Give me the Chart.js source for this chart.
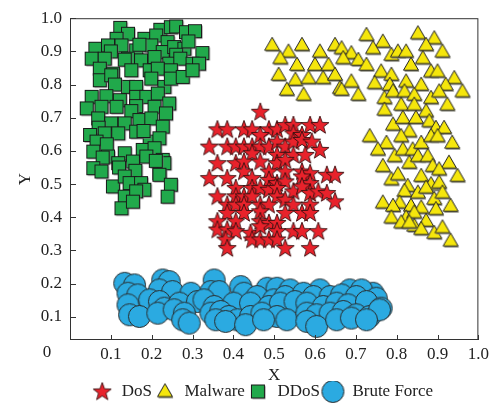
<!DOCTYPE html>
<html>
<head>
<meta charset="utf-8">
<script src="https://cdn.jsdelivr.net/npm/chart.js@4.4.1/dist/chart.umd.min.js"></script>
<style>
  html, body { margin: 0; padding: 0; background: #fff; }
</style>
</head>
<body>
<canvas id="chart" width="493" height="407"></canvas>
<script>
const seriesNames = ['DoS', 'Malware', 'DDoS', 'Brute Force'];
const xTicks = [0.1, 0.2, 0.3, 0.4, 0.5, 0.6, 0.7, 0.8, 0.9, 1.0];
const yTicks = [0.1, 0.2, 0.3, 0.4, 0.5, 0.6, 0.7, 0.8, 0.9, 1.0];

const dosPoints = [
  [0.466,0.718],
  [0.361,0.665],[0.385,0.665],[0.426,0.665],[0.446,0.665],[0.487,0.665],[0.507,0.665],[0.527,0.678],[0.547,0.678],[0.588,0.678],[0.612,0.678],
  [0.466,0.648],[0.547,0.653],[0.568,0.648],
  [0.341,0.613],[0.385,0.613],[0.406,0.613],[0.426,0.613],[0.446,0.613],[0.466,0.613],[0.487,0.613],[0.507,0.628],[0.527,0.613],[0.547,0.628],[0.568,0.633],[0.592,0.628],[0.612,0.603],
  [0.446,0.593],[0.507,0.588],[0.547,0.588],[0.576,0.588],
  [0.361,0.563],[0.406,0.563],[0.426,0.568],[0.466,0.568],[0.507,0.563],[0.527,0.573],
  [0.426,0.538],[0.487,0.538],[0.527,0.538],[0.568,0.538],[0.588,0.533],[0.568,0.523],[0.629,0.528],[0.649,0.528],
  [0.341,0.518],[0.385,0.518],[0.446,0.518],[0.487,0.513],[0.507,0.503],[0.527,0.508],[0.588,0.503],
  [0.406,0.488],[0.446,0.488],[0.466,0.488],[0.487,0.483],[0.507,0.488],[0.547,0.478],[0.568,0.493],[0.588,0.473],[0.608,0.478],[0.629,0.473],
  [0.361,0.463],[0.406,0.463],[0.426,0.463],[0.446,0.463],[0.507,0.463],[0.527,0.453],[0.649,0.448],
  [0.385,0.438],[0.406,0.438],[0.426,0.438],[0.466,0.438],[0.487,0.438],[0.547,0.438],[0.588,0.438],
  [0.385,0.413],[0.426,0.413],[0.466,0.418],[0.527,0.413],[0.568,0.413],[0.588,0.413],
  [0.361,0.388],[0.406,0.388],[0.466,0.388],[0.487,0.383],[0.507,0.383],
  [0.361,0.363],[0.385,0.363],[0.406,0.358],[0.442,0.353],[0.466,0.373],[0.507,0.358],[0.547,0.358],[0.568,0.358],[0.608,0.358],
  [0.381,0.333],[0.446,0.333],[0.466,0.333],[0.487,0.333],[0.507,0.333],
  [0.385,0.307],[0.527,0.307],[0.588,0.307]
];

const malwarePoints = [
  [0.495,0.919],[0.568,0.919],[0.649,0.919],[0.726,0.949],[0.766,0.929],[0.852,0.954],[0.892,0.939],[0.872,0.919],[0.912,0.899],
  [0.535,0.899],[0.515,0.879],[0.612,0.899],[0.665,0.909],[0.689,0.894],[0.742,0.909],[0.787,0.889],[0.803,0.899],[0.823,0.899],[0.864,0.879],
  [0.556,0.859],[0.600,0.859],[0.633,0.859],[0.669,0.879],[0.706,0.874],[0.726,0.859],[0.762,0.839],[0.787,0.829],[0.835,0.859],[0.884,0.839],[0.900,0.839],[0.941,0.819],
  [0.511,0.829],[0.552,0.814],[0.584,0.819],[0.620,0.819],[0.649,0.829],[0.689,0.809],[0.746,0.804],[0.783,0.799],[0.823,0.809],[0.860,0.799],[0.920,0.799],[0.961,0.779],
  [0.531,0.784],[0.572,0.769],[0.661,0.789],[0.665,0.784],[0.706,0.769],[0.770,0.759],[0.791,0.779],[0.819,0.779],[0.843,0.769],[0.884,0.759],[0.904,0.779],
  [0.924,0.739],[0.811,0.739],[0.843,0.739],[0.770,0.724],[0.872,0.719],
  [0.791,0.679],[0.815,0.699],[0.847,0.699],[0.880,0.689],[0.896,0.669],[0.916,0.669],[0.831,0.659],[0.811,0.644],
  [0.734,0.644],[0.775,0.624],[0.754,0.604],[0.795,0.584],[0.815,0.604],[0.839,0.604],[0.860,0.624],[0.884,0.644],[0.900,0.644],[0.936,0.624],
  [0.831,0.564],[0.852,0.584],[0.876,0.584],[0.888,0.554],[0.928,0.564],[0.949,0.524],[0.904,0.544],
  [0.766,0.554],[0.787,0.514],[0.803,0.529],[0.827,0.494],[0.860,0.524],[0.884,0.499],[0.904,0.504],
  [0.819,0.479],[0.852,0.474],[0.872,0.489],[0.892,0.455],[0.912,0.474],
  [0.807,0.444],[0.766,0.444],[0.791,0.434],[0.835,0.434],[0.860,0.429],[0.896,0.424],[0.932,0.434],
  [0.787,0.399],[0.823,0.399],[0.843,0.414],[0.872,0.389],[0.892,0.352],[0.912,0.369],[0.932,0.329],
  [0.843,0.374],[0.860,0.364],[0.811,0.384],[0.831,0.384]
];

const ddosPoints = [
  [0.123,0.971],[0.142,0.953],[0.221,0.965],[0.247,0.973],[0.260,0.975],[0.284,0.958],[0.306,0.961],[0.114,0.938],[0.182,0.938],[0.211,0.948],[0.239,0.928],
  [0.062,0.908],[0.093,0.918],[0.126,0.918],[0.162,0.903],[0.199,0.918],[0.227,0.898],[0.255,0.913],[0.280,0.908],[0.324,0.895],[0.142,0.878],
  [0.100,0.900],[0.170,0.920],[0.260,0.890],[0.290,0.930],[0.200,0.860],
  [0.053,0.878],[0.085,0.878],[0.134,0.875],[0.174,0.873],[0.207,0.883],[0.243,0.863],[0.270,0.878],[0.300,0.863],[0.316,0.863],
  [0.073,0.848],[0.105,0.833],[0.150,0.843],[0.195,0.843],[0.215,0.848],[0.247,0.843],
  [0.073,0.813],[0.101,0.828],[0.142,0.793],[0.162,0.793],[0.199,0.818],[0.231,0.793],[0.247,0.818],[0.276,0.823],[0.300,0.843],[0.110,0.800],
  [0.053,0.763],[0.089,0.765],[0.122,0.753],[0.162,0.763],[0.187,0.763],[0.215,0.773],[0.243,0.743],
  [0.041,0.728],[0.077,0.733],[0.114,0.733],[0.162,0.735],[0.207,0.733],[0.235,0.713],[0.150,0.720],
  [0.069,0.698],[0.101,0.683],[0.134,0.683],[0.170,0.693],[0.199,0.698],[0.227,0.673],[0.070,0.670],
  [0.049,0.648],[0.085,0.653],[0.118,0.653],[0.162,0.658],[0.195,0.628],[0.219,0.638],[0.180,0.660],
  [0.065,0.628],[0.090,0.620],[0.057,0.598],[0.093,0.583],[0.134,0.593],[0.178,0.603],[0.207,0.608],[0.227,0.573],[0.080,0.580],
  [0.057,0.548],[0.077,0.538],[0.118,0.563],[0.154,0.568],[0.187,0.583],[0.219,0.533],[0.231,0.563],[0.120,0.550],[0.210,0.570],[0.160,0.540],
  [0.105,0.493],[0.134,0.523],[0.146,0.503],[0.174,0.503],[0.219,0.528],[0.247,0.498],[0.182,0.483],
  [0.134,0.462],[0.162,0.478],[0.126,0.427],[0.154,0.447],[0.239,0.462]
];

const bruteForcePoints = [
  [0.134,0.201],[0.158,0.196],[0.227,0.211],[0.243,0.206],[0.353,0.211],[0.418,0.191],[0.483,0.186],[0.507,0.186],[0.539,0.181],[0.612,0.181],[0.685,0.181],[0.742,0.171],[0.714,0.181],
  [0.142,0.171],[0.166,0.166],[0.219,0.181],[0.251,0.176],[0.296,0.171],[0.345,0.176],[0.365,0.176],[0.426,0.171],[0.458,0.161],[0.499,0.151],[0.527,0.161],[0.572,0.171],[0.596,0.161],[0.637,0.161],[0.665,0.166],[0.701,0.161],[0.750,0.156],
  [0.142,0.136],[0.195,0.151],[0.219,0.146],[0.231,0.126],[0.268,0.141],[0.312,0.146],[0.328,0.151],[0.353,0.131],[0.401,0.141],[0.442,0.141],[0.487,0.131],[0.515,0.141],[0.551,0.146],[0.580,0.141],[0.620,0.131],[0.653,0.141],[0.681,0.136],[0.726,0.146],[0.762,0.126],
  [0.146,0.106],[0.170,0.101],[0.215,0.111],[0.255,0.121],[0.280,0.111],[0.345,0.111],[0.369,0.116],[0.389,0.101],[0.410,0.091],[0.442,0.101],[0.470,0.111],[0.507,0.101],[0.531,0.091],[0.580,0.111],[0.604,0.106],[0.637,0.111],[0.669,0.116],[0.701,0.106],[0.734,0.101],[0.758,0.121],
  [0.276,0.091],[0.292,0.081],[0.357,0.091],[0.381,0.086],[0.430,0.076],[0.474,0.091],[0.580,0.086],[0.604,0.071],[0.653,0.091],[0.689,0.096],[0.726,0.091]
];

const FONT = '"Liberation Serif", "Times New Roman", serif';
const INK = '#222';

// marker images, drawn once and handed to chart.js as pointStyle
function makeMarker(size, draw) {
  const c = document.createElement('canvas');
  c.width = size; c.height = size;
  const g = c.getContext('2d');
  g.lineJoin = 'miter';
  draw(g, size / 2);
  return c;
}

const starImg = makeMarker(22, (g, m) => {
  const R = 9.5, r = 3.9;
  g.beginPath();
  for (let i = 0; i < 10; i++) {
    const a = -Math.PI / 2 + i * Math.PI / 5;
    const rr = i % 2 ? r : R;
    g.lineTo(m + rr * Math.cos(a), m + 0.5 + rr * Math.sin(a));
  }
  g.closePath();
  g.fillStyle = '#E8222B';
  g.fill();
  g.strokeStyle = '#3a1010';
  g.lineWidth = 0.9;
  g.stroke();
});

const triangleImg = makeMarker(20, (g, m) => {
  const s = 15, h = s * Math.sqrt(3) / 2;
  const tri = (dx, dy) => {
    g.beginPath();
    g.moveTo(m + dx, m - h * 0.6 + dy);
    g.lineTo(m + s / 2 + dx, m + h * 0.4 + dy);
    g.lineTo(m - s / 2 + dx, m + h * 0.4 + dy);
    g.closePath();
  };
  tri(0.8, 1.5);
  g.fillStyle = '#8a8a80';
  g.fill();
  tri(0, 0);
  g.fillStyle = '#F5E60C';
  g.fill();
  g.strokeStyle = '#222';
  g.lineWidth = 1;
  g.stroke();
});

const squareImg = makeMarker(18, (g, m) => {
  const s = 13;
  g.fillStyle = '#777';
  g.fillRect(m - s / 2 + 1, m - s / 2 + 1, s, s);
  g.fillStyle = '#21A94B';
  g.fillRect(m - s / 2, m - s / 2, s, s);
  g.strokeStyle = '#1a1a1a';
  g.lineWidth = 1;
  g.strokeRect(m - s / 2, m - s / 2, s, s);
});

const circleImg = makeMarker(25, (g, m) => {
  g.beginPath();
  g.arc(m, m, 11, 0, Math.PI * 2);
  g.fillStyle = '#2BAAE1';
  g.fill();
  g.strokeStyle = '#2a2a2a';
  g.lineWidth = 1;
  g.stroke();
});

const toXY = pts => pts.map(p => ({ x: p[0], y: p[1] }));

// frame, inward ticks and the lone "0" at the corner
const framePlugin = {
  id: 'frame',
  afterLayout(chart) {
    // legend sits a little left of the plot centre
    const lg = chart.legend;
    const a = chart.chartArea;
    const shift = (a.left + a.right) / 2 - (lg.left + lg.right) / 2 - 12;
    lg.left += shift;
    lg.right += shift;
  },
  afterDatasetsDraw(chart) {
    const { ctx, chartArea: a, scales: { x, y } } = chart;
    ctx.save();
    ctx.strokeStyle = '#333';
    ctx.lineWidth = 1;
    ctx.strokeRect(a.left + 0.5, a.top + 0.5, a.right - a.left - 1, a.bottom - a.top - 1);
    ctx.beginPath();
    xTicks.forEach(v => {
      const px = Math.round(x.getPixelForValue(v)) + 0.5;
      ctx.moveTo(px, a.bottom);
      ctx.lineTo(px, a.bottom - 5);
    });
    yTicks.forEach(v => {
      const py = Math.round(y.getPixelForValue(v)) + 0.5;
      ctx.moveTo(a.left, py);
      ctx.lineTo(a.left + 6, py);
    });
    ctx.stroke();
    ctx.fillStyle = INK;
    ctx.font = '17px ' + FONT;
    ctx.textAlign = 'center';
    ctx.textBaseline = 'middle';
    ctx.fillText('0', a.left - 23, y.getPixelForValue(0) + 3);
    ctx.restore();
  }
};

new Chart(document.getElementById('chart'), {
  type: 'scatter',
  data: {
    datasets: [
      { label: seriesNames[0], data: toXY(dosPoints), pointStyle: starImg },
      { label: seriesNames[1], data: toXY(malwarePoints), pointStyle: triangleImg },
      { label: seriesNames[2], data: toXY(ddosPoints), pointStyle: squareImg },
      { label: seriesNames[3], data: toXY(bruteForcePoints), pointStyle: circleImg }
    ]
  },
  options: {
    responsive: false,
    animation: false,
    devicePixelRatio: 1,
    layout: { padding: { left: 0, top: 16, right: 12, bottom: -3 } },
    elements: { point: { radius: 9, hoverRadius: 9 } },
    plugins: {
      tooltip: { enabled: false },
      legend: {
        position: 'bottom',
        labels: {
          usePointStyle: true,
          pointStyleWidth: 22,
          color: INK,
          padding: 2,
          font: { family: FONT, size: 17 }
        }
      }
    },
    scales: {
      x: {
        min: 0, max: 1,
        afterBuildTicks: s => { s.ticks = xTicks.map(v => ({ value: v })); },
        afterFit: s => { s.height = 41; },
        grid: { display: false, drawTicks: false },
        border: { display: false },
        ticks: {
          padding: 4,
          color: INK,
          font: { family: FONT, size: 17 },
          callback: v => v.toFixed(1)
        },
        title: { display: true, text: 'X', color: INK, padding: { top: 0, bottom: -5 }, font: { family: FONT, size: 17 } }
      },
      y: {
        min: 0.03, max: 1,
        afterBuildTicks: s => { s.ticks = yTicks.map(v => ({ value: v })); },
        afterFit: s => { s.width = 70; },
        grid: { display: false, drawTicks: false },
        border: { display: false },
        ticks: {
          padding: 8,
          color: INK,
          font: { family: FONT, size: 17 },
          callback: v => v.toFixed(1)
        },
        title: { display: true, text: 'Y', color: INK, padding: { top: 15, bottom: 0 }, font: { family: FONT, size: 17 } }
      }
    }
  },
  plugins: [framePlugin]
});
</script>
</body>
</html>
